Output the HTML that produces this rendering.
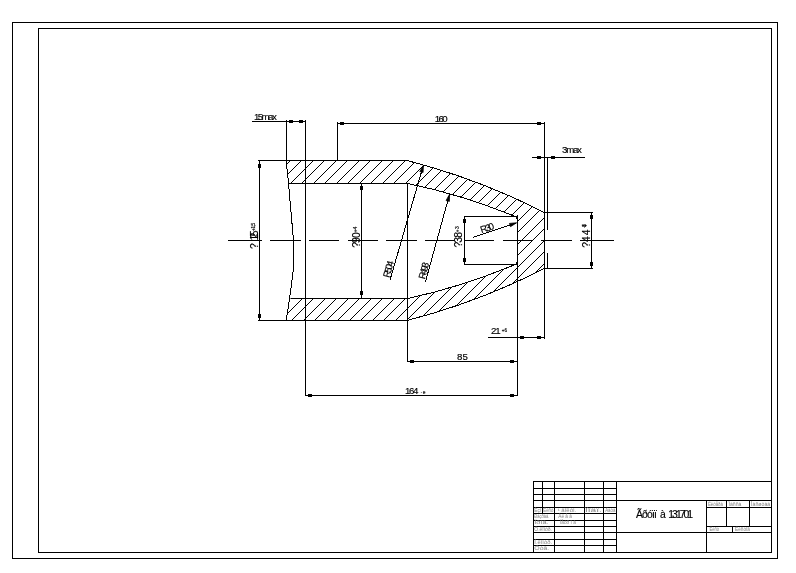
<!DOCTYPE html>
<html lang="en"><head><meta charset="utf-8"><title>Drawing 131701</title>
<style>html,body{margin:0;padding:0;background:#fff;overflow:hidden}svg{display:block;filter:grayscale(1)}text{font-family:"Liberation Sans",Arial,sans-serif;fill:#000;stroke:#000;stroke-width:0.15px}.o{shape-rendering:crispEdges;stroke:#000;stroke-width:1;fill:none}.d{shape-rendering:crispEdges;stroke:#000;stroke-width:1;fill:none}.h{shape-rendering:crispEdges;stroke:#000;stroke-width:1;fill:none}.t{font-size:4.6px;fill:#858585;stroke:none}</style></head><body>
<svg width="796" height="573" viewBox="0 0 796 573">
<rect width="796" height="573" fill="#fff"/>
<g id="frames">
<rect class="o" x="12.5" y="22.5" width="765" height="536"/>
<rect class="o" x="38.5" y="28.5" width="733" height="524"/>
</g>
<g id="titleblock">
<path class="o" d="M533,481.5H772"/>
<path class="o" d="M533,488.5H617"/>
<path class="o" d="M533,494.5H617"/>
<path class="o" d="M533,500.5H617"/>
<path class="o" d="M533,507.5H617"/>
<path class="o" d="M533,513.5H617"/>
<path class="o" d="M533,520.5H617"/>
<path class="o" d="M533,526.5H617"/>
<path class="o" d="M533,532.5H617"/>
<path class="o" d="M533,539.5H617"/>
<path class="o" d="M533,545.5H617"/>
<path class="o" d="M533.5,481V553"/>
<path class="o" d="M554.5,481V553"/>
<path class="o" d="M584.5,481V553"/>
<path class="o" d="M603.5,481V553"/>
<path class="o" d="M616.5,481V553"/>
<path class="o" d="M542.5,481V514"/>
<path class="o" d="M616,500.5H772"/>
<path class="o" d="M616,532.5H772"/>
<path class="o" d="M706.5,500V553"/>
<path class="o" d="M706,507.5H772"/>
<path class="o" d="M706,526.5H772"/>
<path class="o" d="M726.5,500V527"/>
<path class="o" d="M749.5,500V527"/>
<path class="o" d="M732.5,526V533"/>
<text class="t" x="534.3" y="511.9" textLength="7" lengthAdjust="spacingAndGlyphs">Èçì</text>
<text class="t" x="543.3" y="511.9" textLength="10" lengthAdjust="spacingAndGlyphs">Ëèñò</text>
<text class="t" x="557.7" y="511.9" textLength="18.7" lengthAdjust="spacingAndGlyphs">¹ äîêóì.</text>
<text class="t" x="584.9" y="511.9" textLength="17" lengthAdjust="spacingAndGlyphs">Ïîäï.</text>
<text class="t" x="605.2" y="511.9" textLength="10.2" lengthAdjust="spacingAndGlyphs">Äàòà</text>
<text class="t" x="534.3" y="517.8" textLength="15" lengthAdjust="spacingAndGlyphs">Ðàçðàá.</text>
<text class="t" x="558.3" y="517.8" textLength="13.6" lengthAdjust="spacingAndGlyphs">Àë å â</text>
<text class="t" x="534.3" y="524.2" textLength="14.4" lengthAdjust="spacingAndGlyphs">Ïðîâ.</text>
<text class="t" x="560" y="523.8" textLength="15.8" lengthAdjust="spacingAndGlyphs">Ïåòð î â</text>
<text class="t" x="534.3" y="530.9" textLength="17.7" lengthAdjust="spacingAndGlyphs">Ò.êîíòð.</text>
<text class="t" x="534.3" y="543.7" textLength="17.7" lengthAdjust="spacingAndGlyphs">Í.êîíòð.</text>
<text class="t" x="534.3" y="549.9" textLength="15" lengthAdjust="spacingAndGlyphs">Óòâ.</text>
<text class="t" x="707.9" y="506" textLength="15" lengthAdjust="spacingAndGlyphs">Ëèòåðà</text>
<text class="t" x="728.6" y="506" textLength="12.8" lengthAdjust="spacingAndGlyphs">Ìàññà</text>
<text class="t" x="751" y="506" textLength="19.3" lengthAdjust="spacingAndGlyphs">Ìàñøòàá</text>
<text class="t" x="709.4" y="531.2" textLength="9.6" lengthAdjust="spacingAndGlyphs">Ëèñò</text>
<text class="t" x="735" y="531.2" textLength="15" lengthAdjust="spacingAndGlyphs">Ëèñòîâ</text>
<text y="518" font-size="10.4"><tspan x="636" letter-spacing="-0.86">Ãðóïï</tspan><tspan x="660">à</tspan><tspan x="668.3" letter-spacing="-1.98">131701</tspan></text>
</g>
<defs><clipPath id="hc"><path d="M286.2,160.5 H407 A659.0,659.0 0 0 1 544.5,212.6 V268.4 A659.0,659.0 0 0 1 407,320.5 H286.2 L289.6,298.6 H407.5 A614.0,614.0 0 0 0 514.5,264.8 L517.5,264.5 V216.5 L514.5,216.2 A614.0,614.0 0 0 0 407.5,183.4 H288.5 Z"/></clipPath></defs>
<g id="hatch" clip-path="url(#hc)">
<path class="h" d="M121.00,330L301.00,150M132.00,330L312.00,150M144.00,330L324.00,150M155.00,330L335.00,150M167.00,330L347.00,150M178.00,330L358.00,150M190.00,330L370.00,150M201.00,330L381.00,150M213.00,330L393.00,150M224.00,330L404.00,150M236.00,330L416.00,150M247.00,330L427.00,150M259.00,330L439.00,150M271.00,330L451.00,150M282.00,330L462.00,150M294.00,330L474.00,150M305.00,330L485.00,150M317.00,330L497.00,150M328.00,330L508.00,150M340.00,330L520.00,150M351.00,330L531.00,150M363.00,330L543.00,150M374.00,330L554.00,150M386.00,330L566.00,150M397.00,330L577.00,150M409.00,330L589.00,150M420.00,330L600.00,150M432.00,330L612.00,150M443.00,330L623.00,150M455.00,330L635.00,150M466.00,330L646.00,150M478.00,330L658.00,150M489.00,330L669.00,150"/>
</g>
<g id="part">
<path class="o" d="M258,160.5H407"/>
<path class="o" d="M258,320.5H407"/>
<path class="o" d="M288,183.5H408"/>
<path class="o" d="M291,298.5H408"/>
<polyline class="d" points="286.2,160.5 288.5,183.3 293.5,240.5 293.5,268.7 289.6,298.6 286.2,320.5"/>
<path class="d" d="M407,160.5 A659.0,659.0 0 0 1 544.5,212.6"/>
<path class="d" d="M407,320.5 A659.0,659.0 0 0 0 544.5,268.4"/>
<path class="d" d="M407.5,183.4 A614.0,614.0 0 0 1 514.5,216.2"/>
<path class="d" d="M513.5,215.8 Q518,217 517.4,222.2 M513.5,265.2 Q518,264 517.4,258.8"/>
<path class="d" d="M407.5,298.6 A614.0,614.0 0 0 0 514.5,264.8"/>
<path class="o" d="M464,216.5H518"/>
<path class="o" d="M464,264.5H518"/>
<path class="o" d="M464.5,216V265"/>
<path class="o" d="M259.5,160V321"/>
<path class="o" d="M286.5,120V161"/>
<path class="o" d="M305.5,120V396"/>
<path class="o" d="M337.5,122V161"/>
<path class="o" d="M361.5,183V299"/>
<path class="o" d="M407.5,183V362"/>
<path class="o" d="M517.5,215V396"/>
<path class="o" d="M544.5,122V339"/>
<path class="o" d="M547.5,157V230"/>
<path class="o" d="M547.5,253V268"/>
<path class="o" d="M591.5,212V269"/>
<path class="o" d="M544,212.5H593"/>
<path class="o" d="M544,268.5H593"/>
<path class="o" d="M252,121.5H306"/>
<path class="o" d="M337,123.5H545"/>
<path class="o" d="M532,157.5H585"/>
<path class="o" d="M488,337.5H545"/>
<path class="o" d="M407,361.5H518"/>
<path class="o" d="M305,395.5H518"/>
</g>
<g id="axis">
<path class="o" d="M227.5,240.5H261.8"/>
<path class="o" d="M270.3,240.5H300.5"/>
<path class="o" d="M309.0,240.5H339.2"/>
<path class="o" d="M347.7,240.5H377.9"/>
<path class="o" d="M386.4,240.5H416.6"/>
<path class="o" d="M425.1,240.5H455.3"/>
<path class="o" d="M463.9,240.5H494.1"/>
<path class="o" d="M502.6,240.5H532.8"/>
<path class="o" d="M541.3,240.5H571.5"/>
<path class="o" d="M580.0,240.5H614.0"/>
</g>
<g id="arrows" fill="#000" shape-rendering="crispEdges">
<rect x="289" y="120" width="4" height="3"/>
<rect x="299" y="120" width="4" height="3"/>
<rect x="340" y="122" width="4" height="3"/>
<rect x="537" y="122" width="4" height="3"/>
<rect x="537" y="156" width="4" height="3"/>
<rect x="551" y="156" width="4" height="3"/>
<rect x="520" y="336" width="4" height="3"/>
<rect x="537" y="336" width="4" height="3"/>
<rect x="410" y="360" width="4" height="3"/>
<rect x="510" y="360" width="4" height="3"/>
<rect x="308" y="394" width="4" height="3"/>
<rect x="510" y="394" width="4" height="3"/>
<rect x="258" y="164" width="3" height="4"/>
<rect x="258" y="314" width="3" height="4"/>
<rect x="360" y="186" width="3" height="4"/>
<rect x="360" y="291" width="3" height="4"/>
<rect x="463" y="219" width="3" height="4"/>
<rect x="463" y="258" width="3" height="4"/>
<rect x="590" y="215" width="3" height="4"/>
<rect x="590" y="262" width="3" height="4"/>
</g>
<g id="leaders">
<path class="d" d="M423.4,165.3L390,280"/>
<path d="M423.4,165.3L419.81,171.55L423.08,172.50Z" fill="#000" stroke="#000" stroke-width="0.8"/>
<text transform="translate(390.00,280.00) rotate(-73.76)" x="1.5" y="-1.2" font-size="9.7" letter-spacing="-2.04">R504</text>
<path class="d" d="M449.6,194.2L425.5,281.6"/>
<path d="M449.6,194.2L446.10,200.50L449.38,201.40Z" fill="#000" stroke="#000" stroke-width="0.8"/>
<text transform="translate(425.50,281.60) rotate(-74.58)" x="1.5" y="-1.2" font-size="9.7" letter-spacing="-2.04">R493</text>
<path class="d" d="M516.6,222.8L472.9,237.5"/>
<path d="M516.6,222.8L509.42,223.42L510.51,226.64Z" fill="#000" stroke="#000" stroke-width="0.8"/>
<text transform="translate(472.90,237.50) rotate(-18.59)" x="9.5" y="-1.2" font-size="9.7" letter-spacing="-1.86">R30</text>
</g>
<g id="dims">
<text x="254" y="119.9" font-size="9.7" letter-spacing="-1.58">15max</text>
<text x="434.7" y="121.9" font-size="9.7" letter-spacing="-1.55">160</text>
<text x="562" y="153.3" font-size="9.7" letter-spacing="-1.25">3max</text>
<text x="491" y="333.8" font-size="9.7" letter-spacing="-1.21">21</text>
<text x="501.8" y="331.8" font-size="4.5" letter-spacing="0.14">+6</text>
<text x="457" y="360.2" font-size="9.7" letter-spacing="0.09">85</text>
<text x="405" y="393.8" font-size="9.7" letter-spacing="-1.4">164</text>
<text x="420.8" y="394" font-size="4.5" letter-spacing="0.77">-e</text>
<text x="257.7" y="249" font-size="10.4" letter-spacing="0" transform="rotate(-90 257.7 249)">?</text>
<text x="257.7" y="240.6" font-size="10.4" letter-spacing="-3.56" transform="rotate(-90 257.7 240.6)">125</text>
<text x="254.6" y="231.2" font-size="5.4" letter-spacing="-0.71" transform="rotate(-90 254.6 231.2)">+1,5</text>
<text x="360" y="247.8" font-size="10.4" letter-spacing="-0.86" transform="rotate(-90 360 247.8)">?90</text>
<text x="357" y="232.5" font-size="5" letter-spacing="0.1" transform="rotate(-90 357 232.5)">+4</text>
<text x="462" y="247.6" font-size="10.4" letter-spacing="-0.86" transform="rotate(-90 462 247.6)">?38</text>
<text x="459" y="232.5" font-size="5" letter-spacing="0.6" transform="rotate(-90 459 232.5)">+3</text>
<text x="589.8" y="247.8" font-size="10.4" letter-spacing="0" transform="rotate(-90 589.8 247.8)">?</text>
<text x="589.8" y="241.9" font-size="10.4" letter-spacing="0.86" transform="rotate(-90 589.8 241.9)">44</text>
<text x="586" y="227.9" font-size="4.6" letter-spacing="-1.67" transform="rotate(-90 586 227.9)">+1,5</text>
</g>
</svg></body></html>
